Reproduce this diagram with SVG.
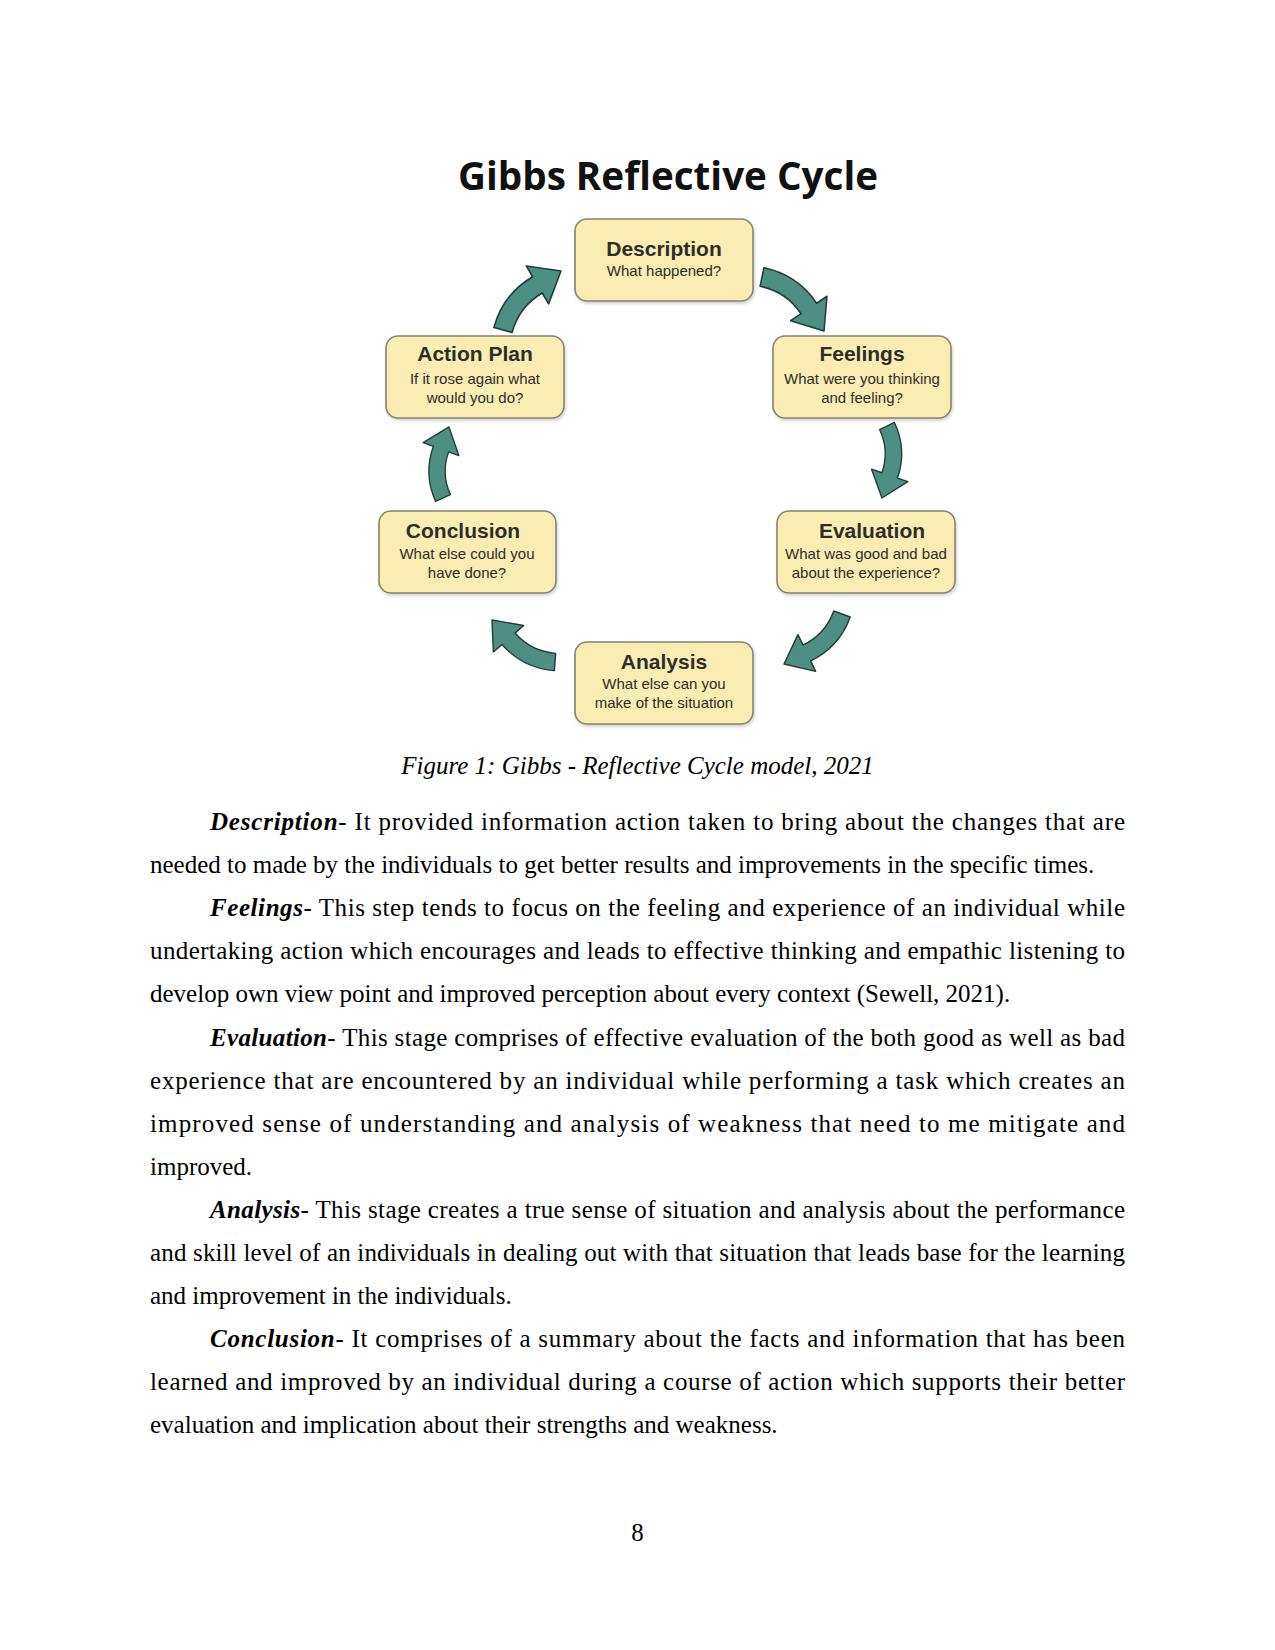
<svg xmlns="http://www.w3.org/2000/svg" width="1275" height="1650" viewBox="0 0 1275 1650">
<defs>
<style>
.box{fill:#f9edb3;stroke:#86836f;stroke-width:1.6}
.bt{font-family:"Liberation Sans",Arial,sans-serif;font-weight:bold;font-size:21px;fill:#2e2e28;text-anchor:middle}
.bs{font-family:"Liberation Sans",Arial,sans-serif;font-size:15px;fill:#2e2e28;text-anchor:middle}
.arr{fill:#4e8f84;stroke:#243d38;stroke-width:1.5;stroke-linejoin:round}
.body{font-family:"Liberation Serif","Times New Roman",serif;font-size:25px;fill:#000}
.bi{font-weight:bold;font-style:italic}
</style>
<filter id="sh" x="-10%" y="-10%" width="120%" height="130%"><feDropShadow dx="1" dy="2" stdDeviation="1.5" flood-color="#000" flood-opacity="0.18"/></filter>
<path id="ca" d="M -3.4,-8.3 Q 27,-20.7 57.4,-8.3 L 61.9,-19.4 L 78.1,9.8 L 46.1,19.4 L 50.6,8.3 Q 27,-1.3 3.4,8.3 Z"/>
</defs>
<rect width="1275" height="1650" fill="#fff"/>
<text x="668" y="190" font-family="'Open Sans','Liberation Sans',sans-serif" font-weight="bold" font-size="39" text-anchor="middle" textLength="420" lengthAdjust="spacingAndGlyphs" fill="#111">Gibbs Reflective Cycle</text>
<g id="connectors">
<use href="#ca" class="arr" transform="translate(762,277) rotate(33.9) scale(1.045)"/>
<use href="#ca" class="arr" transform="translate(887,426) rotate(86.85) scale(0.917)"/>
<use href="#ca" class="arr" transform="translate(842,614) rotate(132.05) scale(0.973)"/>
<use href="#ca" class="arr" transform="translate(555,662) rotate(206.55) scale(0.962)"/>
<use href="#ca" class="arr" transform="translate(443,498) rotate(-92.35) scale(0.906)"/>
<use href="#ca" class="arr" transform="translate(503,330) rotate(-52.65) scale(1.051)"/>
</g>
<g id="description">
<rect class="box" filter="url(#sh)" x="575" y="219" width="178" height="82" rx="12"/>
<text class="bt" x="664" y="256">Description</text>
<text class="bs" x="664" y="276">What happened?</text>
</g>
<g id="feelings">
<rect class="box" filter="url(#sh)" x="773" y="336" width="178" height="82" rx="12"/>
<text class="bt" x="862" y="361">Feelings</text>
<text class="bs" x="862" y="384">What were you thinking</text>
<text class="bs" x="862" y="403">and feeling?</text>
</g>
<g id="evaluation">
<rect class="box" filter="url(#sh)" x="777" y="511" width="178" height="82" rx="12"/>
<text class="bt" x="872" y="538">Evaluation</text>
<text class="bs" x="866" y="559">What was good and bad</text>
<text class="bs" x="866" y="578">about the experience?</text>
</g>
<g id="analysis">
<rect class="box" filter="url(#sh)" x="575" y="642" width="178" height="82" rx="12"/>
<text class="bt" x="664" y="669">Analysis</text>
<text class="bs" x="664" y="689">What else can you</text>
<text class="bs" x="664" y="708">make of the situation</text>
</g>
<g id="conclusion">
<rect class="box" filter="url(#sh)" x="379" y="511" width="177" height="82" rx="12"/>
<text class="bt" x="463" y="538">Conclusion</text>
<text class="bs" x="467" y="559">What else could you</text>
<text class="bs" x="467" y="578">have done?</text>
</g>
<g id="action-plan">
<rect class="box" filter="url(#sh)" x="386" y="336" width="178" height="82" rx="12"/>
<text class="bt" x="475" y="361">Action Plan</text>
<text class="bs" x="475" y="384">If it rose again what</text>
<text class="bs" x="475" y="403">would you do?</text>
</g>
<text class="body" x="637.5" y="774" text-anchor="middle" font-style="italic">Figure 1: Gibbs - Reflective Cycle model, 2021</text>
<g class="body">
<text x="210" y="830" textLength="915"><tspan class="bi">Description</tspan>- It provided information action taken to bring about the changes that are</text>
<text x="150" y="873.1">needed to made by the individuals to get better results and improvements in the specific times.</text>
<text x="210" y="916.2" textLength="915"><tspan class="bi">Feelings</tspan>- This step tends to focus on the feeling and experience of an individual while</text>
<text x="150" y="959.3" textLength="975">undertaking action which encourages and leads to effective thinking and empathic listening to</text>
<text x="150" y="1002.4">develop own view point and improved perception about every context (Sewell, 2021).</text>
<text x="210" y="1045.5" textLength="915"><tspan class="bi">Evaluation</tspan>- This stage comprises of effective evaluation of the both good as well as bad</text>
<text x="150" y="1088.6" textLength="975">experience that are encountered by an individual while performing a task which creates an</text>
<text x="150" y="1131.7" textLength="975">improved sense of understanding and analysis of weakness that need to me mitigate and</text>
<text x="150" y="1174.8">improved.</text>
<text x="210" y="1217.9" textLength="915"><tspan class="bi">Analysis</tspan>- This stage creates a true sense of situation and analysis about the performance</text>
<text x="150" y="1261" textLength="975">and skill level of an individuals in dealing out with that situation that leads base for the learning</text>
<text x="150" y="1304.1">and improvement in the individuals.</text>
<text x="210" y="1347.2" textLength="915"><tspan class="bi">Conclusion</tspan>- It comprises of a summary about the facts and information that has been</text>
<text x="150" y="1390.3" textLength="975">learned and improved by an individual during a course of action which supports their better</text>
<text x="150" y="1433.4">evaluation and implication about their strengths and weakness.</text>
<text x="637.5" y="1541" text-anchor="middle">8</text>
</g>
</svg>
